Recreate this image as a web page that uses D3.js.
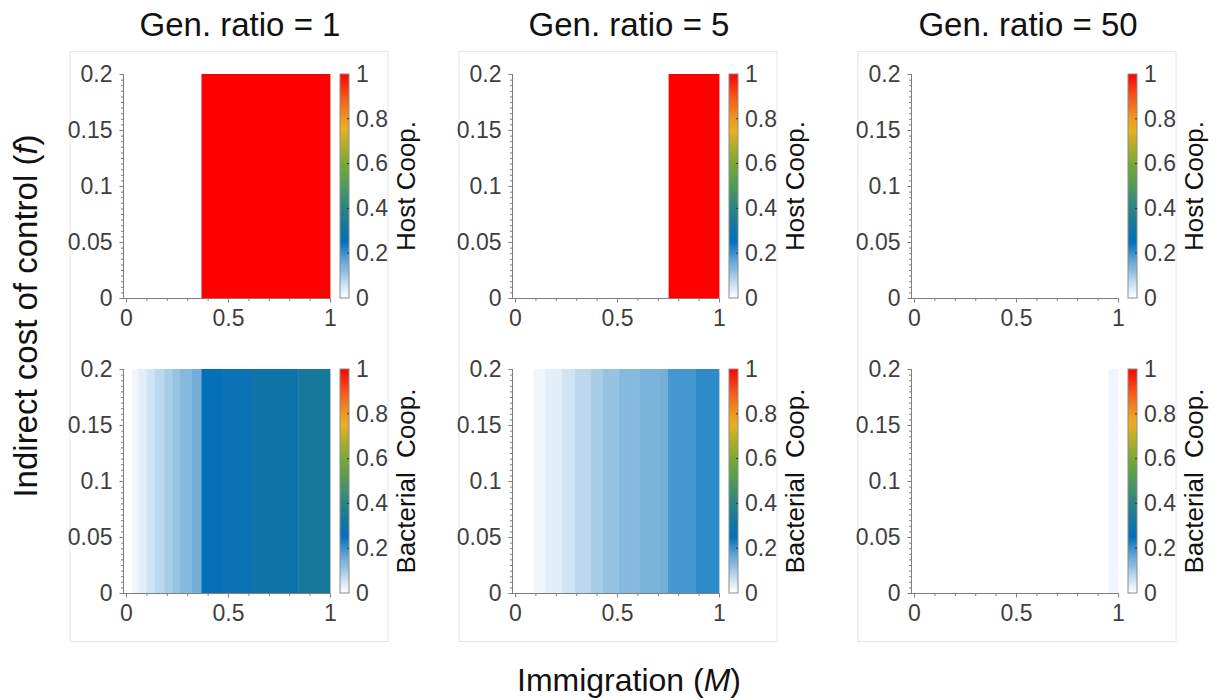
<!DOCTYPE html>
<html>
<head>
<meta charset="utf-8">
<script src="https://cdn.jsdelivr.net/npm/d3@7"></script>
<style>
  html, body { margin: 0; padding: 0; background: #fff; }
  svg { display: block; font-family: "Liberation Sans", Arial, Helvetica, sans-serif; }
</style>
</head>
<body>
<svg id="chart" width="1223" height="700"></svg>
<script>
// Generation ratios, one column of panels each
const genRatios = [1, 5, 50];

// Host cooperation: bands along M (start, end) with their level
const hostStarts = [[0.37], [0.753], []];
const hostEnds   = [[1.0],  [1.0],   []];
const hostValues = [[1],    [1],     []];

// Bacterial cooperation: band edges along M and the level of each band
const bactEdges = [
  [0.03, 0.06, 0.10, 0.14, 0.187, 0.227, 0.265, 0.32, 0.37, 0.47, 0.607, 0.844, 1.0],
  [0.09, 0.15, 0.23, 0.294, 0.37, 0.43, 0.51, 0.61, 0.71, 0.75, 0.887, 1.0],
  [0.954, 1.0]
];
const bactValues = [
  [0.02, 0.035, 0.055, 0.075, 0.095, 0.11, 0.125, 0.15, 0.25, 0.27, 0.30, 0.33],
  [0.02, 0.035, 0.055, 0.075, 0.095, 0.11, 0.125, 0.14, 0.15, 0.19, 0.21],
  [0.02]
];

// Axis ticks
const xTicks = [0, 0.5, 1];
const xTickLabels = ["0", "0.5", "1"];
const yTicks = [0, 0.05, 0.1, 0.15, 0.2];
const yTickLabels = ["0", "0.05", "0.1", "0.15", "0.2"];
const cTicks = [0, 0.2, 0.4, 0.6, 0.8, 1];
const cTickLabels = ["0", "0.2", "0.4", "0.6", "0.8", "1"];

// Colormap (level -> colour)
const cmapLevels = [0, 0.02, 0.035, 0.055, 0.075, 0.095, 0.11, 0.125, 0.15, 0.19, 0.21, 0.25, 0.27, 0.30, 0.33, 0.40, 0.50, 0.60, 0.70, 0.75, 0.80, 0.90, 1.0];
const cmapColors = ["#ffffff", "#f0f6fb", "#e2eef8", "#d0e4f3", "#bcd8ee", "#a8cde8", "#97c3e2", "#86b9de", "#74afd9", "#4797d0", "#2f8ac9", "#0470ba", "#0a72b5", "#0f75a8", "#18789c", "#2a8484", "#4f9a58", "#77aa32", "#c0ae28", "#e8b020", "#ee9820", "#f5561a", "#ff0000"];

const rowLabels = ["Host Coop.", "Bacterial  Coop."];
const colTitles = genRatios.map(g => "Gen. ratio = " + g);

const svg = d3.select("#chart");
const color = d3.scaleLinear().domain(cmapLevels).range(cmapColors).clamp(true);

const panelLeft = [126, 515, 914];
const panelW = 204;
const rowTop = [74, 369];
const panelH = 224;
const axisGrey = "#7f7f7f";
const labelGrey = "#3f3f3f";
const tickFont = 23;

// Colorbar gradient
const defs = svg.append("defs");
const grad = defs.append("linearGradient").attr("id", "cbar")
  .attr("x1", 0).attr("y1", 1).attr("x2", 0).attr("y2", 0);
d3.range(0, 101).forEach(i => {
  const v = i / 100;
  grad.append("stop").attr("offset", v).attr("stop-color", color(v));
});

// Light frames round each column
panelLeft.forEach(x0 => {
  svg.append("rect")
    .attr("x", x0 - 56).attr("y", 51.5)
    .attr("width", 318).attr("height", 590)
    .attr("fill", "none").attr("stroke", "#e6e6e6").attr("stroke-width", 1);
});

function drawPanel(col, row) {
  const x0 = panelLeft[col], y0 = rowTop[row];
  const x = d3.scaleLinear().domain([0, 1]).range([x0, x0 + panelW]);
  const y = d3.scaleLinear().domain([0, 0.2]).range([y0 + panelH, y0]);
  const g = svg.append("g");

  // bands
  let bands = [];
  if (row === 0) {
    bands = hostStarts[col].map((s, i) => ({ a: s, b: hostEnds[col][i], v: hostValues[col][i] }));
  } else {
    const e = bactEdges[col];
    bands = bactValues[col].map((v, i) => ({ a: e[i], b: e[i + 1], v }));
  }
  g.selectAll("rect.band").data(bands).join("rect")
    .attr("class", "band")
    .attr("x", d => x(d.a))
    .attr("width", d => x(d.b) - x(d.a) + 0.4)
    .attr("y", y(0.2))
    .attr("height", y(0) - y(0.2))
    .attr("fill", d => color(d.v));

  // x axis (minor + major)
  const xa = g.append("g").attr("transform", `translate(0,${y(0) + 0.5})`);
  xa.append("g").call(d3.axisBottom(x).tickValues(d3.range(0, 11).map(i => i / 10)).tickSize(2.5).tickFormat(""))
    .call(s => { s.select(".domain").remove(); s.selectAll("line").attr("stroke", axisGrey); });
  xa.append("g").call(d3.axisBottom(x).tickValues(xTicks).tickSize(4).tickSizeOuter(0)
      .tickFormat((d, i) => xTickLabels[i]))
    .call(s => {
      s.select(".domain").remove();
      s.selectAll("line").attr("stroke", axisGrey);
      s.selectAll("text").attr("fill", labelGrey).attr("font-size", tickFont).attr("dy", "1.0em").attr("y", 4);
    });
  xa.append("line").attr("x1", x0 - 3).attr("x2", x(1) + 0.5).attr("y1", 0).attr("y2", 0)
    .attr("stroke", axisGrey).attr("stroke-width", 1);

  // y axis (minor + major)
  const ya = g.append("g").attr("transform", `translate(${x0 - 2.5},0)`);
  ya.append("g").call(d3.axisLeft(y).tickValues(d3.range(0, 41).map(i => i * 0.005)).tickSize(2.5).tickFormat(""))
    .call(s => { s.select(".domain").remove(); s.selectAll("line").attr("stroke", axisGrey); });
  ya.append("g").call(d3.axisLeft(y).tickValues(yTicks).tickSize(4).tickSizeOuter(0)
      .tickFormat((d, i) => yTickLabels[i]))
    .call(s => {
      s.select(".domain").remove();
      s.selectAll("line").attr("stroke", axisGrey);
      s.selectAll("text").attr("fill", labelGrey).attr("font-size", tickFont).attr("x", -11);
    });
  ya.append("line").attr("x1", 0).attr("x2", 0).attr("y1", y(0.2)).attr("y2", y(0) + 0.5)
    .attr("stroke", axisGrey).attr("stroke-width", 1);

  // colorbar
  const cx = x(1) + 10, cw = 9;
  const c = d3.scaleLinear().domain([0, 1]).range([y(0), y(0.2)]);
  const cb = g.append("g");
  cb.append("rect").attr("x", cx).attr("y", c(1)).attr("width", cw).attr("height", c(0) - c(1))
    .attr("fill", "url(#cbar)").attr("stroke", "#8c8c8c").attr("stroke-width", 1);
  const ca = cb.append("g").attr("transform", `translate(${cx + cw},0)`);
  ca.call(d3.axisRight(c).tickValues(cTicks).tickSize(0).tickPadding(7)
      .tickFormat((d, i) => cTickLabels[i]))
    .call(s => {
      s.select(".domain").remove();
      s.selectAll("text").attr("fill", labelGrey).attr("font-size", tickFont);
    });
  ca.selectAll("line.in").data(cTicks.slice(1, -1)).join("line").attr("class", "in")
    .attr("x1", -2).attr("x2", 0).attr("y1", d => c(d)).attr("y2", d => c(d))
    .attr("stroke", "#333");

  // colorbar title
  g.append("text")
    .attr("transform", `translate(${x(1) + 85},${(y(0) + y(0.2)) / 2}) rotate(-90)`)
    .attr("text-anchor", "middle")
    .attr("font-size", 26).attr("fill", "#111")
    .attr("xml:space", "preserve")
    .text(rowLabels[row]);
}

genRatios.forEach((g, col) => { drawPanel(col, 0); drawPanel(col, 1); });

// column titles
svg.selectAll("text.title").data(colTitles).join("text")
  .attr("class", "title")
  .attr("x", (d, i) => panelLeft[i] + panelW / 2 + 12)
  .attr("y", 36)
  .attr("text-anchor", "middle")
  .attr("font-size", 33).attr("fill", "#111")
  .text(d => d);

// shared axis titles
const xl = svg.append("text").attr("x", 629).attr("y", 691)
  .attr("text-anchor", "middle").attr("font-size", 32).attr("fill", "#111");
xl.append("tspan").text("Immigration (");
xl.append("tspan").attr("font-style", "italic").text("M");
xl.append("tspan").text(")");

const yl = svg.append("text").attr("transform", "translate(37,316) rotate(-90)")
  .attr("text-anchor", "middle").attr("font-size", 33).attr("fill", "#111");
yl.append("tspan").text("Indirect cost of control (");
yl.append("tspan").attr("font-style", "italic").text("f");
yl.append("tspan").text(")");
</script>
</body>
</html>
